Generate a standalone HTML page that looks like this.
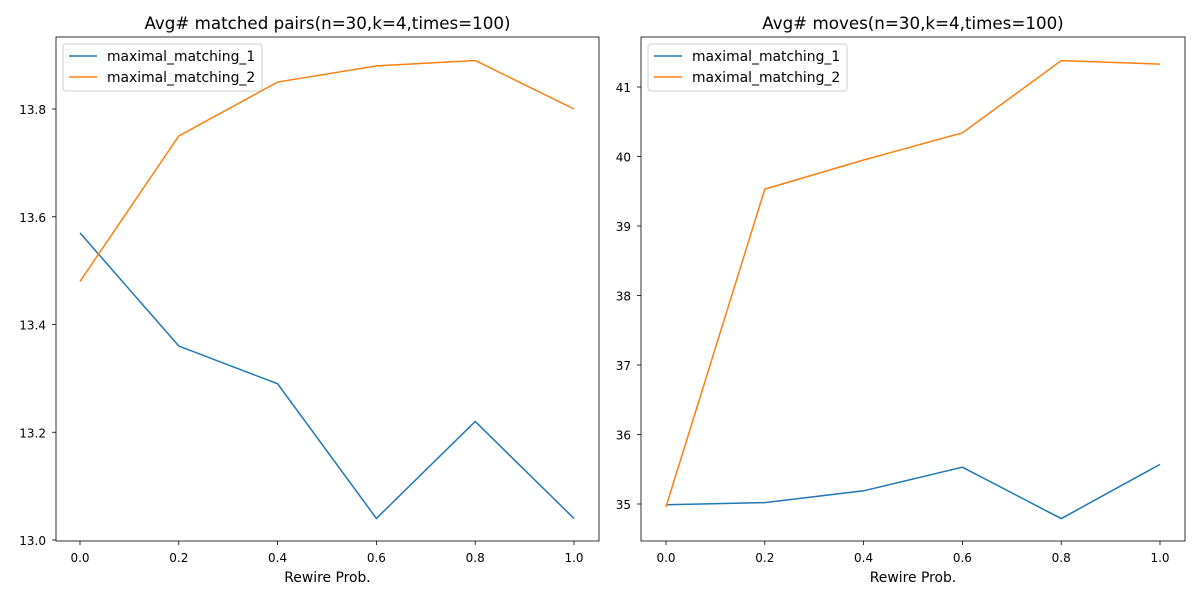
<!DOCTYPE html>
<html><head><meta charset="utf-8">
<style>
body{margin:0;background:#fff;}
svg{display:block;font-family:"DejaVu Sans","Liberation Sans",sans-serif;}
</style></head>
<body>
<svg id="chart" width="1200" height="600"></svg>
<script>
const xValues=[0.0,0.2,0.4,0.6,0.8,1.0];
const xTicks=[0.0,0.2,0.4,0.6,0.8,1.0];
const xTickLabels=["0.0","0.2","0.4","0.6","0.8","1.0"];
const seriesNames=["maximal_matching_1","maximal_matching_2"];
const pairs1=[13.57,13.36,13.29,13.04,13.22,13.04];
const pairs2=[13.48,13.75,13.85,13.88,13.89,13.80];
const pairsTicks=[13.0,13.2,13.4,13.6,13.8];
const pairsTickLabels=["13.0","13.2","13.4","13.6","13.8"];
const moves1=[34.99,35.02,35.19,35.53,34.79,35.57];
const moves2=[34.96,39.53,39.95,40.34,41.38,41.33];
const movesTicks=[35,36,37,38,39,40,41];
const movesTickLabels=["35","36","37","38","39","40","41"];
const colors=["#1f77b4","#ff7f0e"];
const NS="http://www.w3.org/2000/svg";
const svg=document.getElementById('chart');
function mk(tag,attrs,parent){const e=document.createElementNS(NS,tag);for(const k in attrs)e.setAttribute(k,attrs[k]);(parent||svg).appendChild(e);return e;}
function panel(cfg){
  const g=mk('g',{});
  
  
  const L=cfg.left,R=cfg.right,T=37,B=541;
  const xs=v=>cfg.x0+(v-0)*(cfg.x1-cfg.x0)/1.0;
  const ys=v=>cfg.yRef-(v-cfg.vRef)*cfg.ppu;
  const clip='clip-'+cfg.name;
  const cp=mk('clipPath',{id:clip},g);mk('rect',{x:L,y:T,width:R-L,height:B-T},cp);
  cfg.series.forEach((s,i)=>{
    const pts=xValues.map((x,j)=>xs(x)+','+ys(s[j])).join(' ');
    const pl=mk('polyline',{points:pts,fill:'none',stroke:colors[i],'stroke-width':1.5,'clip-path':'url(#'+clip+')'},g);
    
    
  });
  mk('rect',{x:L,y:T,width:R-L,height:B-T,fill:'none',stroke:'#000','stroke-width':0.8},g);
  xTicks.forEach((t,i)=>{
    const x=xs(t);
    mk('line',{x1:x,x2:x,y1:B,y2:B+4,stroke:'#000','stroke-width':0.8},g);
    const tx=mk('text',{x:x,y:B+21,'font-size':12,'text-anchor':'middle'},g);tx.textContent=xTickLabels[i];
    
    
  });
  cfg.yTicks.forEach((t,i)=>{
    const y=ys(t);
    mk('line',{x1:L-4,x2:L,y1:y,y2:y,stroke:'#000','stroke-width':0.8},g);
    const tx=mk('text',{x:L-10,y:y+5,'font-size':12,'text-anchor':'end'},g);tx.textContent=cfg.yLabels[i];
    
    
  });
  const xl=mk('text',{x:(L+R)/2,y:582,'font-size':13.9,'text-anchor':'middle'},g);xl.textContent='Rewire Prob.';
  
  
  const ti=mk('text',{x:(L+R)/2,y:29,'font-size':16.7,'text-anchor':'middle'},g);ti.textContent=cfg.title;
  
  
  const lg=mk('g',{},g);
  
  
  mk('rect',{x:L+7,y:44,width:199,height:47,rx:3,fill:'#fff',stroke:'#ccc','stroke-width':1},lg);
  seriesNames.forEach((n,i)=>{
    const y=56+i*21;
    mk('line',{x1:L+13,x2:L+41,y1:y,y2:y,stroke:colors[i],'stroke-width':1.5},lg);
    const t=mk('text',{x:L+51,y:y+5,'font-size':13.9},lg);t.textContent=n;
    
    
  });
}
panel({name:'matched-pairs-panel',left:56,right:599,x0:80,x1:574,yRef:540,vRef:13.0,ppu:538.75,
  series:[pairs1,pairs2],yTicks:pairsTicks,yLabels:pairsTickLabels,title:'Avg# matched pairs(n=30,k=4,times=100)'});
panel({name:'moves-panel',left:641,right:1185,x0:666,x1:1160,yRef:504,vRef:35,ppu:69.5,
  series:[moves1,moves2],yTicks:movesTicks,yLabels:movesTickLabels,title:'Avg# moves(n=30,k=4,times=100)'});
</script>
</body></html>
